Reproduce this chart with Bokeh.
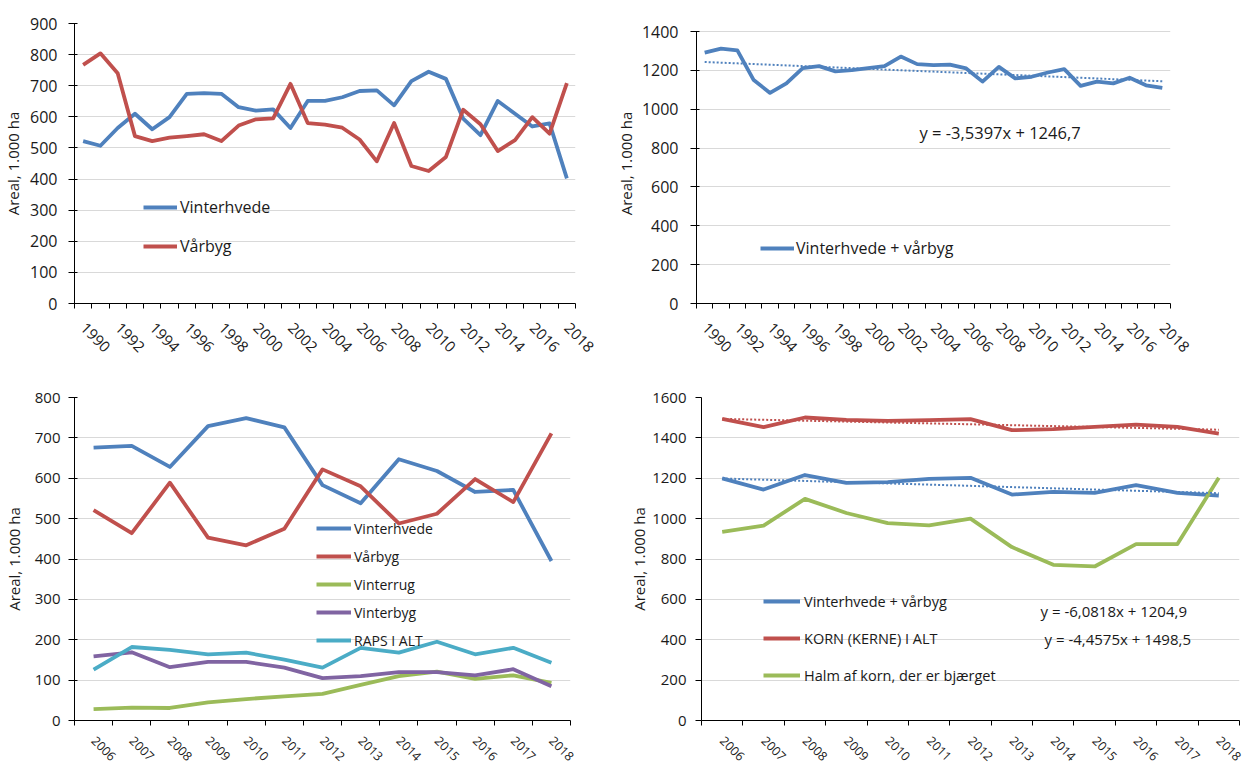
import math
from bokeh.plotting import figure
from bokeh.models import Range1d, FixedTicker, SingleIntervalTicker, Legend, LegendItem, Label
from bokeh.layouts import column, row
from bokeh.embed import file_html
from bokeh.resources import INLINE

# ---------------- data ----------------
years_a = list(range(1990, 2019))
vinterhvede_a = [522, 507, 564, 610, 560, 599, 674, 676, 674, 631, 620, 624, 564, 651, 651,
                 663, 683, 685, 637, 715, 745, 722, 594, 541, 651, 610, 569, 579, 402]
vaarbyg_a = [767, 804, 740, 538, 522, 533, 538, 544, 522, 572, 592, 595, 706, 580, 575,
             565, 527, 457, 580, 442, 426, 471, 623, 576, 490, 525, 599, 546, 708]
sum_a = [1291, 1312, 1303, 1150, 1084, 1133, 1211, 1222, 1195, 1201, 1211, 1222, 1271, 1232, 1227,
         1230, 1210, 1142, 1218, 1159, 1167, 1189, 1206, 1120, 1142, 1133, 1162, 1123, 1110]
trend_a = (-3.5397, 1246.7)

years_b = list(range(2006, 2019))
vinterhvede_b = [676, 680, 628, 729, 749, 726, 583, 538, 647, 618, 566, 571, 395]
vaarbyg_b = [521, 464, 589, 453, 434, 475, 622, 580, 488, 512, 598, 541, 711]
vinterrug_b = [28, 32, 31, 45, 53, 60, 66, 88, 110, 121, 103, 112, 93]
vinterbyg_b = [159, 169, 132, 145, 145, 131, 105, 110, 120, 120, 112, 127, 85]
raps_b = [126, 182, 175, 164, 168, 151, 131, 180, 168, 195, 164, 180, 143]
sum_b = [1199, 1144, 1216, 1177, 1181, 1197, 1202, 1119, 1133, 1128, 1166, 1128, 1114]
korn_b = [1494, 1453, 1501, 1489, 1484, 1488, 1493, 1438, 1443, 1454, 1466, 1454, 1421]
halm_b = [934, 965, 1098, 1028, 978, 967, 1000, 859, 771, 763, 874, 874, 1202]
trend_sum_b = (-6.0818, 1204.9)
trend_korn_b = (-4.4575, 1498.5)

y_title = "Areal, 1.000 ha"

BLUE = "#4F81BD"
RED = "#C0504D"
GREEN = "#9BBB59"
PURPLE = "#8064A2"
CYAN = "#4BACC6"
FONT = "Open Sans"
TXT = "#1a1a1a"
LW = 3.8


def eq_text(tr):
    s, c = tr
    return ("y = %sx + %s" % (repr(s), repr(c))).replace(".", ",")


def trend_vals(tr, n):
    s, c = tr
    return [s * (i + 1) + c for i in range(n)]


def make_fig(width, height, years, label_years, yend, ymax, yint, mbl, mbr, mbt, mbb,
             tick_font, x_font, x_standoff, title_standoff, label_standoff, ytick_in):
    p = figure(width=width, height=height,
               x_range=Range1d(years[0] - 0.5, years[-1] + 0.5),
               y_range=Range1d(0, yend),
               output_backend="svg", toolbar_location=None,
               min_border_left=mbl, min_border_right=mbr,
               min_border_top=mbt, min_border_bottom=mbb)
    p.outline_line_color = None
    p.background_fill_color = "white"
    p.border_fill_color = "white"
    p.xgrid.visible = False
    p.ygrid.grid_line_color = "#D9D9D9"
    p.ygrid.grid_line_width = 1

    xa = p.xaxis[0]
    xa.ticker = FixedTicker(ticks=label_years,
                            minor_ticks=[y - 0.5 for y in years] + [years[-1] + 0.5])
    xa.major_tick_out = 0
    xa.major_tick_in = 0
    xa.minor_tick_out = 5
    xa.minor_tick_in = 0
    xa.minor_tick_line_color = "black"
    xa.axis_line_color = "black"
    xa.major_label_orientation = -math.pi / 4
    xa.major_label_text_font = FONT
    xa.major_label_text_font_size = x_font
    xa.major_label_text_color = TXT
    xa.major_label_standoff = x_standoff

    ya = p.yaxis[0]
    ya.ticker = SingleIntervalTicker(interval=yint)
    ya.bounds = (0, ymax)
    ya.minor_tick_line_color = None
    ya.major_tick_out = 6
    ya.major_tick_in = ytick_in
    ya.major_tick_line_color = "black"
    ya.axis_line_color = "black"
    ya.major_label_text_font = FONT
    ya.major_label_text_font_size = tick_font
    ya.major_label_text_color = TXT
    ya.major_label_standoff = label_standoff
    ya.axis_label = y_title
    ya.axis_label_text_font = FONT
    ya.axis_label_text_font_style = "normal"
    ya.axis_label_text_font_size = "15px"
    ya.axis_label_text_color = TXT
    ya.axis_label_standoff = title_standoff
    return p


def add_legend(p, items, x, y, font_size, gw, standoff, spacing, lh):
    leg = Legend(items=items, location=(x, y), orientation="vertical",
                 glyph_width=gw, glyph_height=lh, label_height=lh,
                 label_standoff=standoff, spacing=spacing, padding=0, margin=0,
                 border_line_color=None, background_fill_alpha=0,
                 label_text_font=FONT, label_text_font_size=font_size,
                 label_text_color=TXT)
    p.add_layout(leg)


def add_eq(p, text, x, y, size):
    p.add_layout(Label(x=x, y=y, x_units="screen", y_units="screen", text=text,
                       text_font=FONT, text_font_size=size, text_color=TXT,
                       text_baseline="middle", text_align="left"))


# ---------------- panel 1 ----------------
p1 = make_fig(612, 385, years_a, years_a[::2], 900, 900, 100, 74, 37, 23, 82,
              "16px", "15px", 17, 4, 11, 3)
r1a = p1.line(years_a, vinterhvede_a, line_color=BLUE, line_width=LW, line_join="round")
r1b = p1.line(years_a, vaarbyg_a, line_color=RED, line_width=LW, line_join="round")
add_legend(p1, [LegendItem(label="Vinterhvede", renderers=[r1a]),
                LegendItem(label="Vårbyg", renderers=[r1b])],
           69, 46, "16px", 34, 3, 17, 22)

# ---------------- panel 2 ----------------
p2 = make_fig(633, 385, years_a, years_a[::2], 1441.2, 1400, 200, 80, 75, 23, 82,
              "16px", "15px", 17, 3, 12, 3)
r2 = p2.line(years_a, sum_a, line_color=BLUE, line_width=LW, line_join="round")
p2.line(years_a, trend_vals(trend_a, len(years_a)), line_color=BLUE, line_width=2,
        line_dash="2 2")
add_legend(p2, [LegendItem(label="Vinterhvede + vårbyg", renderers=[r2])],
           64, 44, "16px", 34, 2, 0, 22)
add_eq(p2, eq_text(trend_a), 223, 171, "16.5px")

# ---------------- panel 3 ----------------
p3 = make_fig(620, 401, years_b, years_b, 800, 800, 100, 74, 50, 12, 66,
              "15px", "12.5px", 13, 8, 8, 3)
series3 = [("Vinterhvede", vinterhvede_b, BLUE), ("Vårbyg", vaarbyg_b, RED),
           ("Vinterrug", vinterrug_b, GREEN), ("Vinterbyg", vinterbyg_b, PURPLE),
           ("RAPS I ALT", raps_b, CYAN)]
items3 = []
for name, vals, col in series3:
    r = p3.line(years_b, vals, line_color=col, line_width=LW, line_join="round")
    items3.append(LegendItem(label=name, renderers=[r]))
add_legend(p3, items3, 242, 70, "14px", 35, 3, 8, 20)

# ---------------- panel 4 ----------------
p4 = make_fig(649, 401, years_b, years_b, 1600, 1600, 200, 81, 30, 12, 66,
              "15px", "12.5px", 13, 0, 9, 0)
r4a = p4.line(years_b, sum_b, line_color=BLUE, line_width=LW, line_join="round")
r4b = p4.line(years_b, korn_b, line_color=RED, line_width=LW, line_join="round")
r4c = p4.line(years_b, halm_b, line_color=GREEN, line_width=LW, line_join="round")
p4.line(years_b, trend_vals(trend_sum_b, len(years_b)), line_color=BLUE, line_width=2,
        line_dash="2 2")
p4.line(years_b, trend_vals(trend_korn_b, len(years_b)), line_color=RED, line_width=2,
        line_dash="2 2")
add_legend(p4, [LegendItem(label="Vinterhvede + vårbyg", renderers=[r4a]),
                LegendItem(label="KORN (KERNE) I ALT", renderers=[r4b]),
                LegendItem(label="Halm af korn, der er bjærget", renderers=[r4c])],
           62, 35, "14.5px", 37, 4, 17, 20)
add_eq(p4, eq_text(trend_sum_b), 339, 110, "15px")
add_eq(p4, eq_text(trend_korn_b), 343, 82, "15px")

layout = column(row(p1, p2), row(p3, p4))
open("out.html", "w").write(
    file_html(layout, INLINE).replace(
        "</head>", "<style>html,body{overflow:hidden;}</style></head>", 1))
